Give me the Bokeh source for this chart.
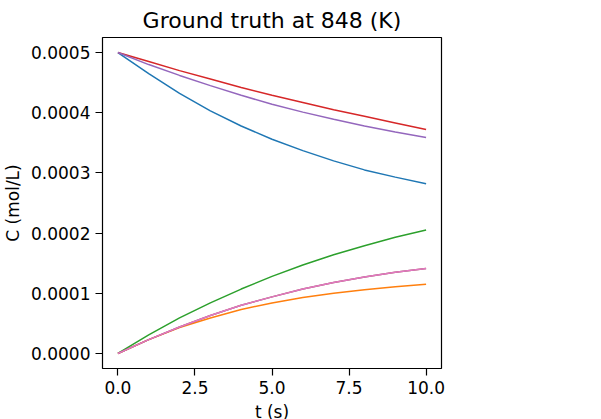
from bokeh.plotting import figure
from bokeh.models import Legend, LegendItem, PrintfTickFormatter, FixedTicker, Range1d
from bokeh.embed import file_html
from bokeh.resources import INLINE

t = [0, 1, 2, 3, 4, 5, 6, 7, 8, 9, 10]
c2h6 = [0.0005, 0.000465, 0.000432, 0.000403, 0.000378, 0.000356, 0.000337, 0.000320, 0.000305, 0.000293, 0.000282]
c2h4 = [0, 0.000023, 0.000043, 0.000059, 0.000073, 0.000084, 0.000093, 0.000100, 0.000106, 0.000111, 0.000115]
ch4 = [0, 0.000031, 0.000059, 0.000084, 0.000107, 0.000128, 0.000147, 0.000164, 0.000179, 0.000193, 0.000205]
h2 = [0.0005, 0.000485, 0.000470, 0.000456, 0.000442, 0.000429, 0.000417, 0.000405, 0.000394, 0.000383, 0.000372]
co2 = [0.0005, 0.000480, 0.000462, 0.000445, 0.000429, 0.000414, 0.000401, 0.000389, 0.000378, 0.000368, 0.000359]
co = [0, 0.000023, 0.000044, 0.000063, 0.000080, 0.000094, 0.000107, 0.000118, 0.000127, 0.000135, 0.000141]
h2o = [0, 0.000023, 0.000044, 0.000063, 0.000080, 0.000094, 0.000107, 0.000118, 0.000127, 0.000135, 0.000141]

series = [("C₂H₆", c2h6, "#1f77b4"), ("C₂H₄", c2h4, "#ff7f0e"), ("CH₄", ch4, "#2ca02c"),
          ("H₂", h2, "#d62728"), ("CO₂", co2, "#9467bd"), ("CO", co, "#8c564b"), ("H₂O", h2o, "#e377c2")]

F = "DejaVu Sans"
p = figure(frame_width=339, frame_height=331, output_backend="svg", toolbar_location=None,
           x_range=Range1d(-0.5, 10.5), y_range=Range1d(-0.000025, 0.000525),
           title="Ground truth at 848 (K)",
           min_border_left=100, min_border_top=19, min_border_bottom=53, min_border_right=146)
p.title.text_font = F
p.title.text_font_size = "22px"
p.title.text_font_style = "normal"
p.title.text_color = "black"
p.title.align = "center"
items = []
for name, ys, col in series:
    r = p.line(t, ys, line_color=col, line_width=1.5)
    items.append(LegendItem(label=name, renderers=[r]))
leg = Legend(items=items, label_text_font=F, label_text_font_size="17px",
             glyph_width=40, label_standoff=12, spacing=7, padding=9,
             border_line_color="#cccccc", location=(367, 90), label_height=23)
p.add_layout(leg)
p.grid.visible = False
p.outline_line_color = "black"
p.outline_line_width = 1.2
for ax in (p.xaxis[0], p.yaxis[0]):
    ax.major_label_text_font = F
    ax.major_label_text_font_size = "17px"
    ax.major_label_text_color = "black"
    ax.axis_label_text_font = F
    ax.axis_label_text_font_size = "17px"
    ax.axis_label_text_font_style = "normal"
    ax.axis_label_text_color = "black"
    ax.minor_tick_line_color = None
    ax.major_tick_out = 7
    ax.major_tick_in = 0
    ax.major_tick_line_width = 1.2
    ax.axis_line_color = None
p.xaxis.axis_label = "t (s)"
p.yaxis.axis_label = "C (mol/L)"
p.xaxis.ticker = FixedTicker(ticks=[0, 2.5, 5, 7.5, 10])
p.xaxis.formatter = PrintfTickFormatter(format="%.1f")
p.yaxis.ticker = FixedTicker(ticks=[0, 0.0001, 0.0002, 0.0003, 0.0004, 0.0005])
p.yaxis.formatter = PrintfTickFormatter(format="%.4f")

open("out.html", "w").write(file_html(p, INLINE))
